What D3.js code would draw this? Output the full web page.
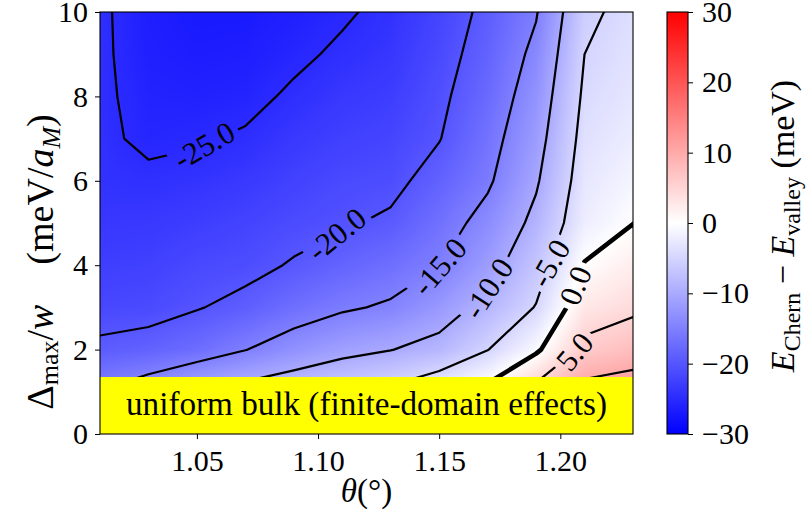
<!DOCTYPE html>
<html lang="en">
<head>
<meta charset="utf-8">
<title>Chern vs valley energy</title>
<script src="https://d3js.org/d3.v7.min.js"></script>
<style>
body { margin: 0; background: #fff; }
svg text { font-family: "Liberation Serif", "Times New Roman", serif; fill: #000; }
.contour { fill: none; stroke: #000; stroke-width: 2.2; stroke-linejoin: round; }
.contour.zero { stroke-width: 4.6; }
.axis line { stroke: #000; stroke-width: 1; }
.axis text { font-size: 30px; }
</style>
</head>
<body>
<div id="chart"></div>
<script>

// twist angle grid (degrees) and domain-wall strength grid (meV/a_M)
var thetas = [1.01, 1.03, 1.05, 1.07, 1.09, 1.11, 1.13, 1.15, 1.17, 1.19, 1.21, 1.23];
var deltas = [0, 1, 2, 3, 4, 5, 6, 7, 8, 9, 10];

// E_Chern - E_valley (meV), one row per delta (bottom row first), one value per theta
var dE = [
  [-10.0, -6.0, -4.0, -3.0, -1.0, 0.0, 1.0, 3.0, 5.0, 10.0, 14.0, 16.0],
  [-14.8, -12.5, -9.7, -8.3, -6.9, -5.6, -4.1, -1.5, 1.3, 6.6, 11.7, 12.5],
  [-19.2, -18.5, -17.2, -15.1, -13.0, -11.2, -10.1, -8.6, -5.1, -0.7, 6.1, 7.7],
  [-21.6, -21.3, -20.2, -19.0, -17.0, -15.5, -14.5, -12.1, -8.7, -4.8, 2.8, 4.2],
  [-22.7, -22.4, -21.5, -21.0, -19.7, -18.3, -17.0, -15.1, -11.6, -6.9, 0.2, 2.1],
  [-23.5, -23.4, -22.8, -22.1, -21.2, -20.4, -19.4, -16.8, -13.6, -8.9, -2.1, -0.05],
  [-24.1, -24.4, -24.0, -23.35, -22.3, -21.4, -21.0, -18.5, -15.6, -10.5, -2.9, -1.2],
  [-24.4, -25.6, -25.3, -24.66, -23.4, -22.5, -21.9, -20.15, -16.6, -11.7, -3.6, -2.2],
  [-24.5, -25.9, -26.1, -25.8, -24.55, -23.45, -22.8, -20.75, -17.6, -12.8, -4.3, -2.9],
  [-24.5, -26.3, -26.7, -26.5, -25.6, -24.5, -23.6, -21.4, -18.4, -14.0, -5.0, -3.4],
  [-24.5, -26.5, -27.0, -27.0, -26.3, -25.4, -24.2, -22.0, -19.1, -15.3, -5.8, -3.8]
];

var levels = [-25, -20, -15, -10, -5, 0, 5, 10];

// inline contour labels: level, where it sits (theta, delta) and its tilt
var labelLevels = [-25, -20, -15, -10, -5, 0, 5];
var labelTheta = [1.0538, 1.1078, 1.1512, 1.1732, 1.1971, 1.2056, 1.2059];
var labelDelta = [6.73, 4.72, 3.89, 3.33, 4.02, 3.53, 1.95];
var labelAngle = [-30, -39, -49, -57, -60, -68, -50];

var xTicks = [1.05, 1.10, 1.15, 1.20];
var yTicks = [0, 2, 4, 6, 8, 10];
var cbTicks = [-30, -20, -10, 0, 10, 20, 30];
var cbRange = [-30, 30];
var bulkTop = 1.35;   // shaded "uniform bulk" band

var w = 811, h = 523;
var pLeft = 100, pRight = 633, pTop = 12, pBottom = 434;
var cbLeft = 667, cbWidth = 21;

var svg = d3.select("#chart").append("svg")
  .attr("width", w).attr("height", h);

var x = d3.scaleLinear().domain([thetas[0], thetas[thetas.length - 1]]).range([pLeft, pRight]);
var y = d3.scaleLinear().domain([deltas[0], deltas[deltas.length - 1]]).range([pBottom, pTop]);
var color = d3.scaleLinear().domain([-30, 0, 30]).range(["#0000ff", "#ffffff", "#ff0000"]);

var nx = thetas.length, ny = deltas.length;
var dTheta = thetas[1] - thetas[0], dDelta = deltas[1] - deltas[0];

// bilinear value inside the grid
function valueAt(th, de) {
  var fx = Math.max(0, Math.min(nx - 1, (th - thetas[0]) / dTheta));
  var fy = Math.max(0, Math.min(ny - 1, (de - deltas[0]) / dDelta));
  var i = Math.min(Math.floor(fx), nx - 2), j = Math.min(Math.floor(fy), ny - 2);
  var tx = fx - i, ty = fy - j;
  var a = dE[j][i], b = dE[j][i + 1], c = dE[j + 1][i], d = dE[j + 1][i + 1];
  return (a * (1 - tx) + b * tx) * (1 - ty) + (c * (1 - tx) + d * tx) * ty;
}

// smooth colour field drawn into a canvas, then placed as an image
var pw = pRight - pLeft, ph = pBottom - pTop;
var canvas = document.createElement("canvas");
canvas.width = pw; canvas.height = ph;
var ctx = canvas.getContext("2d");
var img = ctx.createImageData(pw, ph);
for (var py = 0; py < ph; py++) {
  for (var px = 0; px < pw; px++) {
    var c = d3.rgb(color(valueAt(x.invert(pLeft + px + 0.5), y.invert(pTop + py + 0.5))));
    var k = 4 * (py * pw + px);
    img.data[k] = c.r; img.data[k + 1] = c.g; img.data[k + 2] = c.b; img.data[k + 3] = 255;
  }
}
ctx.putImageData(img, 0, 0);

svg.append("clipPath").attr("id", "plotClip")
  .append("rect").attr("x", pLeft).attr("y", pTop).attr("width", pw).attr("height", ph);

svg.append("image")
  .attr("x", pLeft).attr("y", pTop).attr("width", pw).attr("height", ph)
  .attr("preserveAspectRatio", "none")
  .attr("href", canvas.toDataURL());

// contour lines
var flat = [];
dE.forEach(function(row) { row.forEach(function(v) { flat.push(v); }); });
var contours = d3.contours().size([nx, ny]).thresholds(levels)(flat);

function gridPx(cx, cy) {
  return [x(thetas[0] + (cx - 0.5) * dTheta), y(deltas[0] + (cy - 0.5) * dDelta)];
}
var path = d3.geoPath(d3.geoTransform({
  point: function(cx, cy) { var p = gridPx(cx, cy); this.stream.point(p[0], p[1]); }
}));

var mask = svg.append("mask").attr("id", "gaps")
  .attr("maskUnits", "userSpaceOnUse")
  .attr("x", 0).attr("y", 0).attr("width", w).attr("height", h);
mask.append("rect").attr("width", w).attr("height", h).attr("fill", "#fff");

svg.append("g").attr("clip-path", "url(#plotClip)")
  .append("g").attr("mask", "url(#gaps)")
  .selectAll("path")
  .data(contours)
  .enter()
  .append("path")
  .attr("class", function(d) { return d.value === 0 ? "contour zero" : "contour"; })
  .attr("d", path);

// inline labels, snapped to the nearest point of their line
function ringsPx(mp) {
  var out = [];
  mp.coordinates.forEach(function(poly) {
    poly.forEach(function(ring) {
      out.push(ring.map(function(p) { return gridPx(p[0], p[1]); }));
    });
  });
  return out;
}

var labelG = svg.append("g");
labelLevels.forEach(function(lev, li) {
  var mp = contours[levels.indexOf(lev)];
  var ax = x(labelTheta[li]), ay = y(labelDelta[li]);
  var best = null;
  ringsPx(mp).forEach(function(r) {
    for (var k = 0; k < r.length - 1; k++) {
      var a = r[k], b = r[k + 1];
      var dx = b[0] - a[0], dy = b[1] - a[1], L2 = dx * dx + dy * dy;
      var t = L2 ? Math.max(0, Math.min(1, ((ax - a[0]) * dx + (ay - a[1]) * dy) / L2)) : 0;
      var q = [a[0] + t * dx, a[1] + t * dy];
      var dd = (q[0] - ax) * (q[0] - ax) + (q[1] - ay) * (q[1] - ay);
      if (!best || dd < best.d) best = { d: dd, q: q };
    }
  });
  var tr = "translate(" + best.q[0] + "," + best.q[1] + ") rotate(" + labelAngle[li] + ")";

  var t = labelG.append("text")
    .attr("transform", tr)
    .attr("text-anchor", "middle")
    .attr("dy", "0.35em")
    .style("font-size", "31px")
    .text(lev.toFixed(1));
  var tl = t.node().getComputedTextLength();
  mask.append("rect")
    .attr("x", -tl / 2 - 5).attr("y", -12).attr("width", tl + 10).attr("height", 24)
    .attr("transform", tr)
    .attr("fill", "#000");
});

// uniform bulk band
svg.append("rect")
  .attr("x", x(thetas[0])).attr("y", y(bulkTop))
  .attr("width", x(thetas[nx - 1]) - x(thetas[0]))
  .attr("height", y(0) - y(bulkTop))
  .attr("fill", "#ffff00");
var bulkText = svg.append("text")
  .attr("x", (pLeft + pRight) / 2).attr("y", (y(0) + y(bulkTop)) / 2)
  .attr("dy", "0.3em")
  .attr("text-anchor", "middle")
  .style("font-size", "30px")
  .text("uniform bulk (finite-domain effects)");
// the reference caption spans about 481px
bulkText.style("font-size", (30 * 481 / bulkText.node().getComputedTextLength()) + "px");

// axes
var xAxis = svg.append("g").attr("class", "axis")
  .attr("transform", "translate(0," + pBottom + ")")
  .call(d3.axisBottom(x).tickValues(xTicks).tickFormat(d3.format(".2f")).tickSize(5).tickPadding(11));
var yAxis = svg.append("g").attr("class", "axis")
  .attr("transform", "translate(" + pLeft + ",0)")
  .call(d3.axisLeft(y).tickValues(yTicks).tickFormat(d3.format("d")).tickSize(5).tickPadding(7));
xAxis.select(".domain").remove();
yAxis.select(".domain").remove();

svg.append("rect")
  .attr("x", pLeft).attr("y", pTop).attr("width", pw).attr("height", ph)
  .attr("fill", "none").attr("stroke", "#000").attr("stroke-width", 1.1);

// colorbar
var cb = d3.scaleLinear().domain(cbRange).range([pBottom, pTop]);
var grad = svg.append("linearGradient").attr("id", "cbGrad")
  .attr("x1", 0).attr("y1", 1).attr("x2", 0).attr("y2", 0);
d3.range(0, 1.0001, 0.1).forEach(function(f) {
  var v = cbRange[0] + f * (cbRange[1] - cbRange[0]);
  grad.append("stop").attr("offset", f).attr("stop-color", color(v));
});
svg.append("rect")
  .attr("x", cbLeft).attr("y", pTop).attr("width", cbWidth).attr("height", ph)
  .attr("fill", "url(#cbGrad)").attr("stroke", "#000").attr("stroke-width", 1.1);
var cbAxis = svg.append("g").attr("class", "axis")
  .attr("transform", "translate(" + (cbLeft + cbWidth) + ",0)")
  .call(d3.axisRight(cb).tickValues(cbTicks).tickFormat(d3.format("d")).tickSize(5).tickPadding(9));
cbAxis.select(".domain").remove();

// axis titles
svg.append("text")
  .attr("x", (pLeft + pRight) / 2).attr("y", 502)
  .attr("text-anchor", "middle")
  .style("font-size", "33px")
  .html('<tspan font-style="italic">θ</tspan>(°)');

svg.append("text")
  .attr("transform", "translate(53,262) rotate(-90)")
  .attr("text-anchor", "middle")
  .style("font-size", "38px")
  .html('Δ<tspan font-size="26" dy="5">max</tspan><tspan dy="-5">/</tspan><tspan font-style="italic">w</tspan>' +
        '<tspan dx="40">(meV/</tspan><tspan font-style="italic">a</tspan><tspan font-style="italic" font-size="26" dy="7">M</tspan><tspan dy="-7">)</tspan>');

svg.append("text")
  .attr("transform", "translate(794,226) rotate(-90)")
  .attr("text-anchor", "middle")
  .style("font-size", "34px")
  .html('<tspan font-style="italic">E</tspan><tspan font-size="24" dy="6">Chern</tspan><tspan dy="-6"> − </tspan>' +
        '<tspan font-style="italic">E</tspan><tspan font-size="24" dy="6">valley</tspan><tspan dy="-6"> (meV)</tspan>');

</script>
</body>
</html>
